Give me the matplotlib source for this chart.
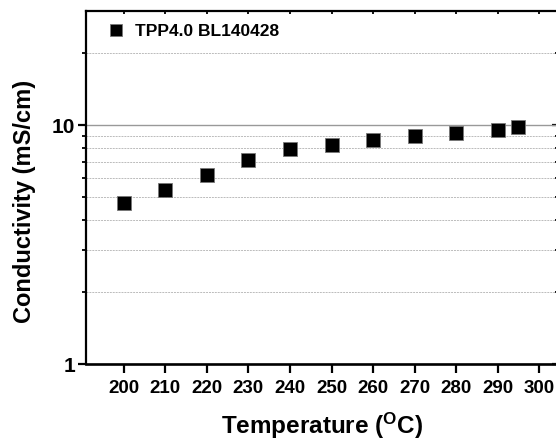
import matplotlib
matplotlib.use("Agg")
import matplotlib.pyplot as plt
from matplotlib.ticker import FixedLocator, NullFormatter, FixedFormatter

plt.rcParams['font.family'] = ['Liberation Sans', 'DejaVu Sans']
plt.rcParams['font.weight'] = 'bold'
plt.rcParams['mathtext.fontset'] = 'custom'
plt.rcParams['mathtext.rm'] = 'Liberation Sans'
plt.rcParams['mathtext.bf'] = 'Liberation Sans:bold'
plt.rcParams['mathtext.it'] = 'Liberation Sans:bold'

temperature = [200, 210, 220, 230, 240, 250, 260, 270, 280, 290, 295]
conductivity = [4.73, 5.35, 6.18, 7.14, 7.94, 8.22, 8.63, 8.99, 9.23, 9.50, 9.84]
series_label = "TPP4.0 BL140428"
x_ticks = [200, 210, 220, 230, 240, 250, 260, 270, 280, 290, 300]
y_major = [1, 10]
y_major_labels = ["1", "10"]
y_minor = [2, 3, 4, 5, 6, 7, 8, 9, 20]

fig = plt.figure(figsize=(5.56, 4.43), dpi=100)
ax = fig.add_axes([86/556, 1 - 364/443, (557.5 - 86)/556, (364 - 11)/443])

ax.plot(temperature, conductivity, linestyle='none', marker='s', markersize=9.8,
        markerfacecolor='black', markeredgecolor='#777777', markeredgewidth=0.6,
        label=series_label, zorder=3)

ax.set_yscale('log')
ax.set_ylim(1, 30)
ax.set_xlim(190.9, 304.4)

ax.yaxis.set_major_locator(FixedLocator(y_major))
ax.yaxis.set_major_formatter(FixedFormatter(y_major_labels))
ax.yaxis.set_minor_locator(FixedLocator(y_minor))
ax.yaxis.set_minor_formatter(NullFormatter())
ax.xaxis.set_major_locator(FixedLocator(x_ticks))
ax.xaxis.set_minor_locator(FixedLocator([]))

ax.grid(True, which='major', axis='y', color='#999999', linewidth=1.0, linestyle='-')
ax.grid(True, which='minor', axis='y', color='#bbbbbb', linewidth=0.7, linestyle=(0, (2, 1)))
ax.set_axisbelow(True)

for s in ['left', 'top', 'right']:
    ax.spines[s].set_linewidth(1.6)
ax.spines['bottom'].set_linewidth(1.9)

ax.tick_params(axis='x', which='major', direction='out', length=6.5, width=1.6,
               labelsize=13.5, pad=5, top=False)
ax.tick_params(axis='y', which='major', direction='out', length=6, width=1.6,
               labelsize=15, pad=2, right=False)
ax.tick_params(axis='y', which='minor', direction='out', length=3, width=1.3, right=False)

# inward ticks on top and right
secx = ax.secondary_xaxis('top')
secx.set_xticks(x_ticks)
secx.tick_params(direction='in', length=2.5, width=1.3, labeltop=False)
secx.spines['top'].set_visible(False)
secy = ax.secondary_yaxis('right')
secy.yaxis.set_major_locator(FixedLocator(y_major))
secy.yaxis.set_minor_locator(FixedLocator(y_minor))
secy.yaxis.set_major_formatter(NullFormatter())
secy.yaxis.set_minor_formatter(NullFormatter())
secy.tick_params(which='major', direction='in', length=4.5, width=1.6)
secy.tick_params(which='minor', direction='in', length=2.5, width=1.3)
secy.spines['right'].set_visible(False)

ax.set_ylabel('Conductivity (mS/cm)', fontsize=17, fontweight='bold')
ax.yaxis.set_label_coords(-0.106, 0.46)
ax.set_xlabel(r'Temperature $\mathrm{(}^{\mathbf{O}}\mathbf{C}\mathrm{)}$',
              fontsize=17.5, fontweight='bold', labelpad=10)

ax.legend(loc='upper left', frameon=False, handlelength=0.8,
          handletextpad=0.68, borderpad=0.4, borderaxespad=0.94, markerscale=0.85,
          bbox_to_anchor=(0.0, 1.0 + 10/353),
          prop={'weight': 'bold', 'size': 12.5})

fig.savefig('out.png', dpi=100)
